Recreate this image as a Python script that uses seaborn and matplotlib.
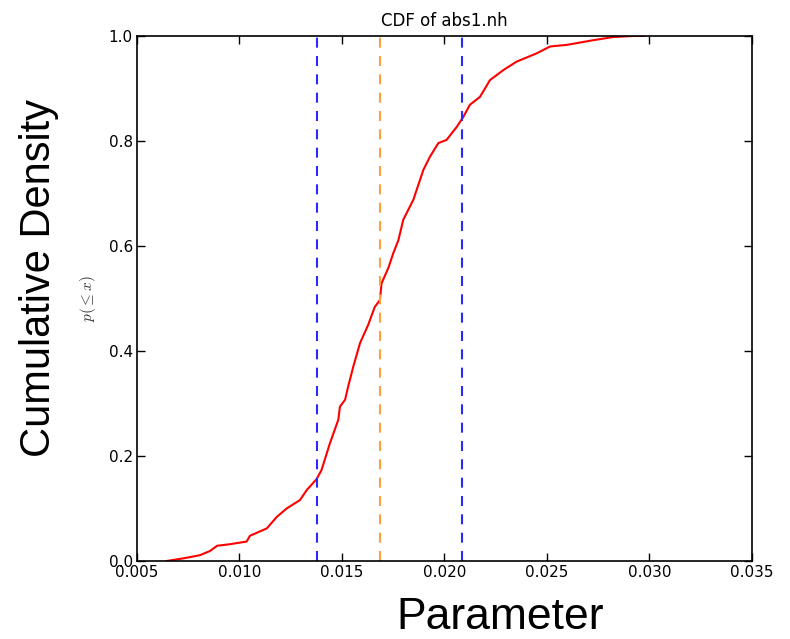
import matplotlib
matplotlib.use("Agg")
import matplotlib.pyplot as plt
import seaborn as sns
import pandas as pd

# ---- data ----
cdf_x = [0.00645, 0.00726, 0.00807, 0.00856, 0.00891, 0.00954, 0.01035, 0.01051,
         0.01133, 0.01182, 0.01230, 0.01295, 0.01328, 0.01376, 0.01400, 0.01441,
         0.01482, 0.01490, 0.01515, 0.01530, 0.01555, 0.01588, 0.01628, 0.01660,
         0.01685, 0.01693, 0.01726, 0.01750, 0.01775, 0.01799, 0.01848, 0.01897,
         0.01929, 0.01970, 0.02010, 0.02060, 0.02092, 0.02124, 0.02173, 0.02222,
         0.02287, 0.02351, 0.02450, 0.02515, 0.02596, 0.02726, 0.02823, 0.02920,
         0.02980]
cdf_y = [0.000, 0.005, 0.011, 0.019, 0.029, 0.032, 0.037, 0.048,
         0.062, 0.084, 0.100, 0.116, 0.135, 0.156, 0.173, 0.224,
         0.269, 0.294, 0.307, 0.332, 0.370, 0.415, 0.450, 0.484,
         0.497, 0.529, 0.558, 0.586, 0.611, 0.650, 0.688, 0.745,
         0.770, 0.796, 0.802, 0.827, 0.846, 0.869, 0.884, 0.916,
         0.935, 0.951, 0.967, 0.980, 0.983, 0.992, 0.998, 1.000,
         1.000]
lower_bound = 0.013795
median_val = 0.016854
upper_bound = 0.020854
x_ticks = [0.005, 0.010, 0.015, 0.020, 0.025, 0.030, 0.035]
y_ticks = [0.0, 0.2, 0.4, 0.6, 0.8, 1.0]
title = "CDF of abs1.nh"

sns.set_style("ticks", {"xtick.direction": "in", "ytick.direction": "in"})
plt.rcParams["font.family"] = ["DejaVu Sans"]
plt.rcParams["lines.scale_dashes"] = False
plt.rcParams["mathtext.fontset"] = "cm"
for k in ["text.color", "axes.labelcolor", "xtick.color", "ytick.color", "axes.edgecolor"]:
    plt.rcParams[k] = "black"

df = pd.DataFrame({"x": cdf_x, "y": cdf_y})

fig = plt.figure(figsize=(7.9, 6.39), dpi=100)
ax = fig.add_axes([0.1734, 0.1221, 0.7785, 0.8216])

sns.lineplot(data=df, x="x", y="y", ax=ax, color="red", linewidth=1.5,
             estimator=None, sort=False)

for val, col in [(lower_bound, "#2a2aff"), (median_val, "#ffa040"), (upper_bound, "#2a2aff")]:
    ax.axvline(val, color=col, linewidth=1.5, linestyle=(0, (7.2, 6.0)))

ax.set_xlim(0.005, 0.035)
ax.set_ylim(0.0, 1.0)
ax.set_xticks(x_ticks)
ax.set_xticklabels([f"{t:.3f}" for t in x_ticks])
ax.set_yticks(y_ticks)
ax.set_yticklabels([f"{t:.1f}" for t in y_ticks])
ax.tick_params(axis="both", which="major", direction="in", length=6, width=1,
               labelsize=11, top=True, right=True, pad=3, colors="black")
for s in ax.spines.values():
    s.set_linewidth(1.2)
    s.set_color("black")

ax.set_title(title, fontsize=12, pad=7, color="black")
ax.set_xlabel("")
ax.set_ylabel(r"$p(\leq x)$", fontsize=11, color="#333333")
ax.yaxis.set_label_coords(-0.064, 0.5)

fig.text(0.05, 0.565, "Cumulative Density", rotation=90, ha="center", va="center",
         fontsize=30, color="black", family=["Liberation Sans", "DejaVu Sans"])
fig.text(0.633, 0.016, "Parameter", ha="center", va="baseline",
         fontsize=32, color="black", family=["Liberation Sans", "DejaVu Sans"])

fig.savefig("out.png", dpi=100)
